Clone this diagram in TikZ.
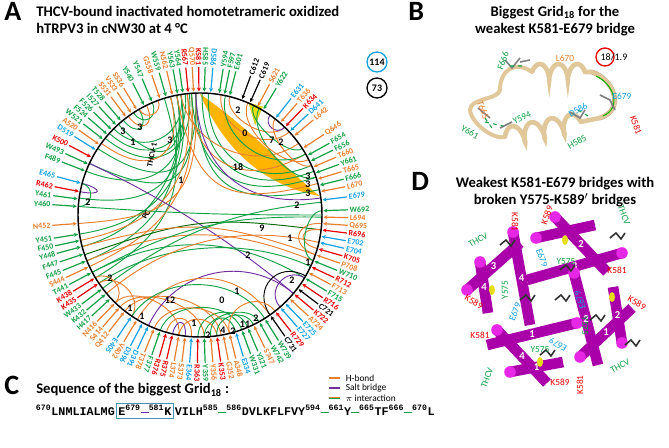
\documentclass[tikz,border=0pt]{standalone}
\usepackage{fontspec}
\setmainfont{Carlito}
\setsansfont{Carlito}
\newfontfamily\seqfont{Liberation Mono}
\usetikzlibrary{arrows.meta,calc,decorations.pathmorphing}
\definecolor{cg}{RGB}{20,160,70}
\definecolor{co}{RGB}{232,128,48}
\definecolor{cb}{RGB}{20,160,225}
\definecolor{cr}{RGB}{230,0,0}
\definecolor{cp}{RGB}{112,48,160}
\definecolor{cy}{RGB}{255,180,0}
\definecolor{tan}{RGB}{225,200,155}
\definecolor{mag}{RGB}{170,0,170}
\definecolor{magl}{RGB}{230,40,230}
\newcommand\cc[4]{\draw[#1,line width=0.7pt] (#2:122) .. controls (#2:#4) and (#3:#4) .. (#3:122);}
\newcommand\cyl[4]{\draw[line width=8pt,mag] (#1)--(#2);\fill[magl] (#2) circle (5.8);\node[cyln] (#4) at ($(#1)!0.5!(#2)$) {#3};}
\begin{document}
\begin{tikzpicture}[x=0.75pt,y=0.75pt,font=\sffamily,
 lab/.style={font=\sffamily\bfseries\fontsize{6}{6.5}\selectfont,inner sep=0.5pt},
 arr/.style={line width=0.9pt,-{Stealth[length=3pt,width=3pt]}},
 num/.style={font=\sffamily\bfseries\fontsize{7.5}{8}\selectfont,inner sep=0.5pt},
 big/.style={font=\sffamily\bfseries\fontsize{21}{22}\selectfont,inner sep=0pt,anchor=north west},
 ttl/.style={font=\sffamily\bfseries\fontsize{11}{13}\selectfont,inner sep=0pt,align=center},
 dl/.style={font=\sffamily\fontsize{7}{8}\selectfont,inner sep=0.5pt},
 sq/.style={inner sep=0pt,outer sep=0pt,font=\seqfont\bfseries\fontsize{8.8}{9}\selectfont,anchor=base west},
 cyln/.style={font=\sffamily\bfseries\fontsize{8}{9}\selectfont,text=white,inner sep=0pt}]
\useasboundingbox (0,0) rectangle (669,-448);
\fill[white] (0,0) rectangle (669,-448);
% titles
\node[big] (A) at (4,-2) {A};
\node[ttl,align=left,anchor=north west] (tA) at (36,-6) {THCV-bound inactivated homotetrameric oxidized\\hTRPV3 in cNW30 at 4 °C};
\node[big] (B) at (408,-2) {B};
\node[ttl,anchor=north] (tB) at (555,-6) {Biggest Grid\textsubscript{18} for the\\weakest K581-E679 bridge};
\node[big] (D) at (411,-172) {D};
\node[ttl,anchor=north] (tD) at (555,-177) {Weakest K581-E679 bridges with\\broken Y575-K589$'$ bridges};
\node[big] (C) at (4,-376) {C};
\node[ttl,anchor=west] (tC) at (36,-390) {Sequence of the biggest Grid\textsubscript{18} :};
% count circles
\draw[cb,line width=1pt] (377,-62) circle (10); \node[num] (c114) at (377,-62) {114};
\draw[black,line width=1pt] (377,-88) circle (10); \node[num] (c73) at (377,-88) {73};
% legend
\draw[co,line width=1.5pt] (329,-378)--(340,-378); \node[dl,anchor=west] (l1) at (345,-378) {H-bond};
\draw[cp,line width=1.5pt] (329,-388)--(340,-388); \node[dl,anchor=west] (l2) at (345,-388) {Salt bridge};
\draw[cg,line width=1.5pt] (329,-398)--(340,-398); \draw[co,line width=0.6pt] (329,-397.5)--(340,-397.5); \node[dl,anchor=west] (l3) at (345,-398) {$\pi$ interaction};
\begin{scope}[shift={(200,-215)}]
\fill[cy] (90:121) .. controls (70:70) and (25:70) .. (9:121) .. controls (25:100) and (60:100) .. cycle;
\fill[yellow!90!black] (66.4:122) -- (60:125) -- (58.6:106) -- cycle;
\draw[yellow!80!black,line width=0.4pt] (66.4:122) -- (60:125) -- (58.6:106) -- cycle;
% connections
\cc{cg}{141}{95}{60}\cc{cg}{138}{97}{70}\cc{cg}{135}{99}{80}\cc{cg}{132}{101}{60}
\cc{cg}{147}{92}{40}\cc{cg}{155}{94}{30}\cc{cg}{159}{99}{50}\cc{cg}{172}{101}{40}
\cc{cg}{189}{99}{40}\cc{cg}{195}{101}{50}\cc{cg}{202}{104}{40}\cc{cg}{211}{107}{30}
\cc{co}{205}{94}{30}\cc{co}{184}{92}{20}\cc{co}{144}{104}{60}\cc{co}{192}{96}{35}
\cc{cg}{92}{12}{30}\cc{cg}{94}{18}{40}\cc{cg}{89}{21}{50}\cc{cg}{86}{24}{60}
\cc{co}{96}{30}{50}\cc{co}{99}{36}{70}\cc{cp}{92}{8}{45}\cc{co}{101}{15}{25}
\cc{co}{80}{43}{90}\cc{co}{76}{46}{100}\cc{cg}{61}{18}{95}\cc{cp}{55}{46}{110}
\cc{cg}{64}{33}{105}\cc{co}{67}{27}{95}\cc{cg}{78}{30}{80}\cc{co}{52}{24}{105}
\cc{cg}{129}{120}{100}\cc{co}{126}{116}{100}\cc{cg}{123}{113}{105}\cc{co}{120}{110}{108}
\cc{cp}{155}{320}{40}\cc{cp}{169}{165}{100}\cc{cg}{165}{176}{108}
\cc{cg}{176}{0}{20}\cc{green!40!black}{199}{353}{10}\cc{co}{195}{341}{15}\cc{co}{202}{338}{30}
\cc{cg}{208}{329}{40}\cc{cg}{214}{335}{50}\cc{cg}{217}{6}{30}\cc{co}{220}{347}{40}
\cc{co}{226}{260}{95}\cc{co}{229}{272}{90}\cc{co}{232}{280}{85}\cc{cg}{251}{290}{90}
\cc{cg}{269}{293}{95}\cc{cg}{272}{299}{100}\cc{cp}{245}{320}{60}\cc{cp}{257}{263}{105}
\cc{co}{239}{305}{60}\cc{co}{248}{284}{90}\cc{cg}{275}{287}{100}\cc{black}{305}{330}{90}
\cc{co}{254}{266}{100}\cc{co}{260}{278}{100}\cc{cg}{278}{296}{102}\cc{co}{284}{308}{95}
\cc{co}{341}{356}{95}\cc{co}{344}{353}{100}\cc{cg}{338}{2}{105}\cc{cp}{311}{329}{100}
\cc{co}{211}{226}{105}\cc{co}{214}{236}{100}\cc{cg}{236}{302}{70}\cc{cg}{208}{359}{25}
\draw[black,line width=1.1pt] (0,0) circle (122);
% residue labels
\foreach \a/\t/\c in {7/E679/cb,11/L670/co,14/F666/cg,17/T665/co,20/Y661/cg,23/T660/co,26/F656/cg,29/F654/cg,33/Q646/co,
 40/L642/co,43/D641/cb,46/K634/cr,49/T636/co,52/E631/cb,59/Y622/cg,62/S621/co,66/C619/black,70/C612/black,
 76/E601/cg,78.5/F597/cg,81/Y594/cg,85/D586/cb,88/H585/cg,90.5/K581/cr,93/Q570/co,95.5/R567/cr,98/Y564/cg,100.5/Y563/cg,
 103/N562/co,106/W559/cg,109/G558/co,113/Y547/cg,117/Y540/cg,121/S536/co,124/V533/co,127/S531/co,130/T528/cg,
 133/I527/cg,136/F526/cg,139/F524/cg,142/W521/cg,145/A520/co,148/D519/cb,152/K500/cr,155.5/W493/cg,159/F489/cg,
 165/E465/cb,169/R462/cr,172.5/Y461/cg,176/Y460/cg,184/N452/co,189/Y451/cg,192/F450/cg,195/Y448/cg,198.5/F447/cg,
 202/F445/cg,205/S444/co,208/T441/cg,211/K438/cr,214/K435/cr,217/W433/cg,220/K432/cg,223/H417/cg,226/N416/co,
 229/S414/co,232/Q412/co,236/E405/cb,239/V402/co,242/D396/cb,245/D391/cb,248/T378/co,251/F377/cg,254/R376/cr,
 257/R375/cr,260/L374/co,263/S373/co,266/E364/cb,269/R363/cr,272/Y359/cg,275/Y356/co,278/K353/cr,281/G352/co,
 284/A348/co,287/E334/cb,290/W331/cg,293/Y321/cg,296/S747/co,299/W742/cg,302/W739/cg,305/C731/black,308/R729/cr,
 311/E727/cb,314/E725/cb,317/A724/co,320/K722/cr,323/C721/black,326/R716/cr,329/F715/cg,332/F713/co,335/R712/cr,
 338/W710/cg,341/P708/co,344/K705/cr,347/E704/cb,350/E702/cb,353/R696/cr,356/Q695/co,359/L694/co,2/W692/cg}{
 \draw[arr,\c] (\a:148) -- (\a:123.5);
 \pgfmathtruncatemacro\side{(\a>82)&&(\a<235)}
 \ifnum\side=1
  \node[lab,text=\c,anchor=east,rotate=\a-180] (L\t) at (\a:149) {\t};
 \else
  \node[lab,text=\c,anchor=west,rotate=\a] (L\t) at (\a:149) {\t};
 \fi
}
\end{scope}
% inner numbers
\foreach \x/\y/\t [count=\i] in {140/127/3,123/131/3,133/142/1,170/140/3,238/110/2,245/133/0,272/140/7,281/142/2,
 238/167/18,308/176/3,308/184/3,308/193/3,181/180/1,88/202/2,262/228/9,290/238/1,248/255/2,308/262/1,292/280/2,
 237/291/1,170/300/12,222/300/0,110/278/2,130/308/1,142/316/1,194/323/1,208/335/2,223/330/4,233/331/2,245/324/11,
 256/318/2,297/205/2}{\node[num] (n\i) at (\x,-\y) {\t};}
\node[lab,rotate=78] (thcv) at (152,-155) {THCV-1};
\node[lab,rotate=60] (pc) at (146,-215) {PC};
% panel B
\draw[tan!80!black,line width=3.6pt,line cap=round] (600,-118) .. controls (625,-110) and (615,-80) .. (592,-72);
\draw[tan,line width=3pt,line cap=round] (600,-118) .. controls (625,-110) and (615,-80) .. (592,-72);
\draw[green!70!black,line width=0.8pt] (603,-116) .. controls (622,-108) and (614,-84) .. (596,-76);
\draw[tan,line width=3.5pt,decorate,decoration={coil,aspect=0.4,amplitude=6pt,segment length=14pt}] (532,-72) -- (592,-72);
\draw[tan,line width=3.5pt,decorate,decoration={coil,aspect=0.4,amplitude=7pt,segment length=15pt}] (505,-137) -- (600,-118);
\draw[tan,line width=3pt,line cap=round] (532,-72) .. controls (515,-60) and (500,-70) .. (500,-90) .. controls (498,-100) and (470,-98) .. (470,-110) .. controls (472,-125) and (495,-140) .. (505,-137);
\draw[gray,line width=1.2pt] (505,-60)--(512,-68)--(520,-58) (520,-62)--(530,-60) (478,-108)--(490,-118) (500,-128)--(512,-122) (570,-112)--(580,-118)--(585,-110) (600,-95)--(610,-100)--(615,-110);
\draw[cg,dashed,line width=0.8pt] (510,-66)--(522,-66) (485,-122)--(503,-126) (485,-118)--(492,-128) (578,-110)--(588,-116);
\node[lab,text=cg,rotate=70,font=\sffamily\fontsize{7}{8}\selectfont] (bF666) at (503,-61) {F666};
\node[lab,text=co,font=\sffamily\fontsize{7}{8}\selectfont] (bL670) at (565,-58) {L670};
\draw[cr,line width=1pt] (605,-57) circle (9);
\node[lab,font=\sffamily\fontsize{7.5}{8}\selectfont] (b18) at (614,-57) {18/1.9};
\node[lab,text=cb,font=\sffamily\fontsize{7}{8}\selectfont] (bE679) at (622,-96) {E679};
\node[lab,text=co,rotate=-70,font=\sffamily\fontsize{7}{8}\selectfont] (bT665) at (483,-110) {T665};
\node[lab,text=cb,rotate=30,font=\sffamily\fontsize{7}{8}\selectfont] (bD586) at (578,-110) {D586};
\node[lab,text=cg,rotate=25,font=\sffamily\fontsize{7}{8}\selectfont] (bY594) at (522,-118) {Y594};
\node[lab,text=cg,rotate=-30,font=\sffamily\fontsize{7}{8}\selectfont] (bY661) at (470,-132) {Y661};
\node[lab,text=cg,rotate=30,font=\sffamily\fontsize{7}{8}\selectfont] (bH585) at (577,-142) {H585};
\node[lab,text=cr,rotate=-70,font=\sffamily\fontsize{7}{8}\selectfont] (bK581) at (636,-125) {K581};
% panel D
\cyl{527,-280}{622,-253}{3}{d3}
\cyl{598,-365}{574,-273}{2}{d2}
\cyl{487,-345}{577,-323}{1}{d1}
\cyl{530,-325}{513,-232}{4}{d4}
\cyl{595,-225}{536,-238}{3}{e3}
\cyl{607,-272}{555,-217}{2}{e2}
\cyl{488,-313}{480,-262}{4}{f4}
\cyl{520,-243}{467,-290}{3}{f3}
\cyl{547,-383}{497,-330}{4}{g4}
\cyl{563,-362}{510,-372}{1}{g1}
\cyl{632,-308}{580,-357}{1}{h1}
\cyl{613,-287}{622,-343}{2}{h2}
\foreach \x/\y in {500/-245,610/-238,625/-345,540/-355,560/-270,555/-300,520/-300,590/-320}{\draw[gray!40!black,line width=1.2pt] (\x,\y)--++(6,5)--++(5,-6)--++(4,6);}
\foreach \x/\y in {565/-240,492/-290,612/-297,540/-362}{\fill[yellow!90!black] (\x,\y) ellipse (3 and 5);}
\foreach \x/\y/\t/\c/\r [count=\i] in {478/-240/THCV/cg/30,515/-222/K581/cr/-90,542/-258/E679/cb/-70,566/-262/Y575/cg/0,
 547/-215/K589/cr/70,624/-215/THCV/cg/-70,617/-270/K581/cr/0,580/-300/E679/cb/110,637/-303/K589/cr/-30,585/-326/Y575/cg/-90,
 620/-366/THCV/cg/30,580/-385/K581/cr/90,560/-382/K589/cr/0,540/-350/Y575/cg/0,558/-345/E679/cb/150,
 480/-335/K581/cr/0,515/-312/E679/cb/70,505/-290/Y575/cg/90,474/-302/K589/cr/-30,487/-378/THCV/cg/70}{
 \node[lab,text=\c,rotate=\r,font=\sffamily\fontsize{7}{8}\selectfont] (dl\i) at (\x,\y) {\t};}
% panel C sequence
\node[sq] (s1) at (36,-416) {\textsuperscript{670}LNMLIALMG};
\node[sq,draw=cb!50!gray,line width=0.6pt,inner sep=1.5pt,anchor=base west] (s2) at ($(s1.base east)+(1.5,0)$) {E\textsuperscript{679}{\color{cp}\rule[2pt]{6pt}{0.8pt}}\textsuperscript{581}K};
\node[sq] (s3) at ($(s2.base east)+(1.5,0)$) {VILH\textsuperscript{585}{\color{cg}\rule[2pt]{6pt}{0.8pt}}\textsuperscript{586}DVLKFLFVY\textsuperscript{594}{\color{cg}\rule[2pt]{6pt}{0.8pt}}\textsuperscript{661}Y{\color{cg}\rule[2pt]{6pt}{0.8pt}}\textsuperscript{665}TF\textsuperscript{666}{\color{cg}\rule[2pt]{6pt}{0.8pt}}\textsuperscript{670}L};
\end{tikzpicture}
\end{document}
